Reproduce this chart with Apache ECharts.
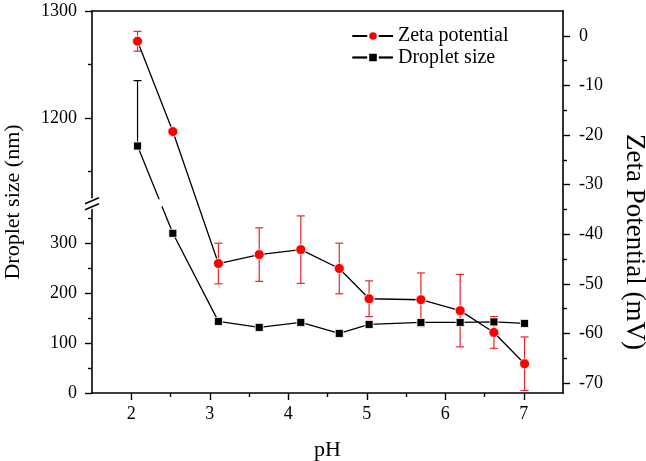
<!DOCTYPE html>
<html>
<head>
<meta charset="utf-8">
<script src="https://cdn.jsdelivr.net/npm/echarts@6/dist/echarts.min.js"></script>
<style>
html,body{margin:0;padding:0;background:#fff;}
#c{width:646px;height:461px;}
</style>
</head>
<body>
<div id="c"></div>
<script>
// ---- data ----
const pH       = [2.08, 2.53, 3.11, 3.63, 4.16, 4.65, 5.03, 5.69, 6.19, 6.62, 7.01];
const zeta     = [-1.1, -19.3, -45.9, -44.1, -43.1, -46.9, -53.0, -53.2, -55.4, -59.8, -66.1];
const zetaErr  = [2.0, 0, 4.1, 5.4, 6.8, 5.1, 3.6, 5.4, 7.3, 3.2, 5.4];
const size     = [1174, 319, 143, 131, 141, 119, 137, 141, 141, 142, 139];
const sizeErr  = [61, 0, 0, 0, 0, 0, 0, 0, 0, 0, 0];
const xTicks   = [2, 3, 4, 5, 6, 7];
const xMinor   = [2.5, 3.5, 4.5, 5.5, 6.5];
const sizeTicks = [0, 100, 200, 300, 1200, 1300];
const sizeMinor = [50, 150, 250, 350, 1150, 1250];
const zetaTicks = [0, -10, -20, -30, -40, -50, -60, -70];
const zetaMinor = [-5, -15, -25, -35, -45, -55, -65];
// broken axis: lower segment 0..brkLo, upper segment brkHi..sizeMax
const brkLo = 380, brkHi = 1121, sizeMax = 1300, lowerFrac = 0.498;

const Dmax = brkLo / lowerFrac;
const k = (Dmax - brkLo) / (sizeMax - brkHi);
const toD = v => v <= brkLo ? v : brkLo + (v - brkHi) * k;
const fromD = d => d <= brkLo + 1e-9 ? d : brkHi + (d - brkLo) / k;

const FONT = 'Liberation Serif';
const chart = echarts.init(document.getElementById('c'), null, {renderer: 'canvas'});

function errRender(color, plusOnly) {
  return function (params, api) {
    const x = api.value(0), lo = api.value(1), hi = api.value(2);
    if (hi === lo) return null;
    const a = api.coord([x, lo]);
    const b = api.coord([x, hi]);
    const w = 4;
    const st = {stroke: color, lineWidth: 1.2};
    return {
      type: 'group',
      children: [
        {type: 'line', shape: {x1: a[0], y1: a[1], x2: b[0], y2: b[1]}, style: st},
        {type: 'line', shape: {x1: b[0] - w, y1: b[1], x2: b[0] + w, y2: b[1]}, style: st},
        plusOnly ? null : {type: 'line', shape: {x1: a[0] - w, y1: a[1], x2: a[0] + w, y2: a[1]}, style: st}
      ].filter(Boolean)
    };
  };
}

const axisLineStyle = {color: '#000', width: 1.6};
const labelStyle = {color: '#000', fontFamily: FONT, fontSize: 18};

const option = {
  animation: false,
  backgroundColor: '#fff',
  grid: {left: 92, right: 83, top: 11, bottom: 68, containLabel: false, outerBoundsMode: 'none'},
  legend: {
    data: ['Zeta potential', 'Droplet size'],
    orient: 'vertical', left: 352, top: 26,
    itemWidth: 40, itemHeight: 12, itemGap: 1.5, padding: 0,
    textStyle: {color: '#000', fontFamily: FONT, fontSize: 20}
  },
  xAxis: [
    {type: 'value', position: 'bottom', min: 1.5, max: 7.5,
     name: 'pH', nameLocation: 'middle', nameGap: 46,
     nameTextStyle: {color: '#000', fontFamily: FONT, fontSize: 22},
     axisLine: {onZero: false, lineStyle: axisLineStyle},
     axisTick: {customValues: xTicks, length: 7, lineStyle: {color: '#000', width: 1.4}},
     axisLabel: Object.assign({customValues: xTicks, margin: 12}, labelStyle),
     splitLine: {show: false}},
    {type: 'value', position: 'bottom', min: 1.5, max: 7.5,
     axisLine: {show: false, onZero: false},
     axisTick: {customValues: xMinor, length: 4, lineStyle: {color: '#000', width: 1.4}},
     axisLabel: {show: false}, splitLine: {show: false}},
    {type: 'value', position: 'top', min: 1.5, max: 7.5,
     axisLine: {onZero: false, lineStyle: axisLineStyle}, axisTick: {show: false},
     axisLabel: {show: false}, splitLine: {show: false}}
  ],
  yAxis: [
    {type: 'value', position: 'left', min: 0, max: Dmax,
     name: 'Droplet size (nm)', nameLocation: 'middle', nameGap: 68, nameRotate: 90,
     nameTextStyle: {color: '#000', fontFamily: FONT, fontSize: 22},
     axisLine: {show: true, onZero: false, lineStyle: axisLineStyle},
     axisTick: {show: true, customValues: sizeTicks.map(toD), length: 7, lineStyle: {color: '#000', width: 1.4}},
     axisLabel: Object.assign({customValues: sizeTicks.map(toD), margin: 15,
       formatter: v => String(Math.round(fromD(v)))}, labelStyle),
     splitLine: {show: false}},
    {type: 'value', position: 'left', min: 0, max: Dmax,
     axisLine: {show: false, onZero: false},
     axisTick: {show: true, customValues: sizeMinor.map(toD), length: 4, lineStyle: {color: '#000', width: 1.4}},
     axisLabel: {show: false}, splitLine: {show: false}},
    {type: 'value', position: 'right', min: -72, max: 5,
     name: 'Zeta Potential (mV)', nameLocation: 'middle', nameGap: 58, nameRotate: -90,
     nameTextStyle: {color: '#000', fontFamily: FONT, fontSize: 27, padding: [0, 0, 0, 80]},
     axisLine: {show: true, onZero: false, lineStyle: axisLineStyle},
     axisTick: {show: true, customValues: zetaTicks, length: 7, lineStyle: {color: '#000', width: 1.4}},
     axisLabel: Object.assign({customValues: zetaTicks, margin: 16}, labelStyle),
     splitLine: {show: false}},
    {type: 'value', position: 'right', min: -72, max: 5,
     axisLine: {show: false, onZero: false},
     axisTick: {show: true, customValues: zetaMinor, length: 4, lineStyle: {color: '#000', width: 1.4}},
     axisLabel: {show: false}, splitLine: {show: false}}
  ],
  series: [
    {name: 'zetaErr', type: 'custom', xAxisIndex: 0, yAxisIndex: 2, z: 3,
     renderItem: errRender('#e8262a', false),
     data: pH.map((x, i) => [x, zeta[i] - zetaErr[i], zeta[i] + zetaErr[i]])},
    {name: 'sizeErr', type: 'custom', xAxisIndex: 0, yAxisIndex: 0, z: 3,
     renderItem: errRender('#000', true),
     data: pH.map((x, i) => [x, toD(size[i]), toD(size[i] + sizeErr[i])])},
    {name: 'Droplet size', type: 'line', xAxisIndex: 0, yAxisIndex: 0, z: 4,
     symbol: 'rect', symbolSize: 8,
     lineStyle: {color: '#000', width: 1.3},
     itemStyle: {color: '#000', borderColor: '#fff', borderWidth: 0.8},
     data: pH.map((x, i) => [x, toD(size[i])])},
    {name: 'Zeta potential', type: 'line', xAxisIndex: 0, yAxisIndex: 2, z: 5,
     symbol: 'circle', symbolSize: 10,
     lineStyle: {color: '#000', width: 1.3},
     itemStyle: {color: '#ff0000', borderColor: '#fff', borderWidth: 0.8},
     data: pH.map((x, i) => [x, zeta[i]])}
  ]
};
chart.setOption(option);

// axis break marks + gap in the broken-axis line
const yB = chart.convertToPixel({yAxisIndex: 0}, brkLo);
const xL = chart.convertToPixel({xAxisIndex: 0}, 1.5);
const p1 = chart.convertToPixel({xAxisIndex: 0, yAxisIndex: 0}, [pH[0], toD(size[0])]);
const p2 = chart.convertToPixel({xAxisIndex: 0, yAxisIndex: 0}, [pH[1], toD(size[1])]);
const t = (yB - p1[1]) / (p2[1] - p1[1]);
const xc = p1[0] + t * (p2[0] - p1[0]);
// legend icon lines (full-width line behind each legend symbol)
const legRows = [36, 57.5];
chart.setOption({
  graphic: [
    {type: 'rect', z: 100, shape: {x: xc - 4, y: yB - 3.5, width: 8, height: 7}, style: {fill: '#fff'}},
    {type: 'polygon', z: 100, shape: {points: [[xL - 8, yB - 1.5], [xL + 8, yB - 7.5], [xL + 8, yB - 1.5 + 4], [xL - 8, yB + 10]]}, style: {fill: '#fff'}},
    {type: 'line', z: 101, shape: {x1: xL - 7, y1: yB + 1, x2: xL + 7, y2: yB - 5}, style: {stroke: '#000', lineWidth: 1.4}},
    {type: 'line', z: 101, shape: {x1: xL - 7, y1: yB + 7, x2: xL + 7, y2: yB + 1}, style: {stroke: '#000', lineWidth: 1.4}},
    {type: 'line', z: 1, shape: {x1: 352, y1: legRows[0], x2: 392, y2: legRows[0]}, style: {stroke: '#000', lineWidth: 1.3}},
    {type: 'line', z: 1, shape: {x1: 352, y1: legRows[1], x2: 392, y2: legRows[1]}, style: {stroke: '#000', lineWidth: 1.3}}
  ]
});
</script>
</body>
</html>
